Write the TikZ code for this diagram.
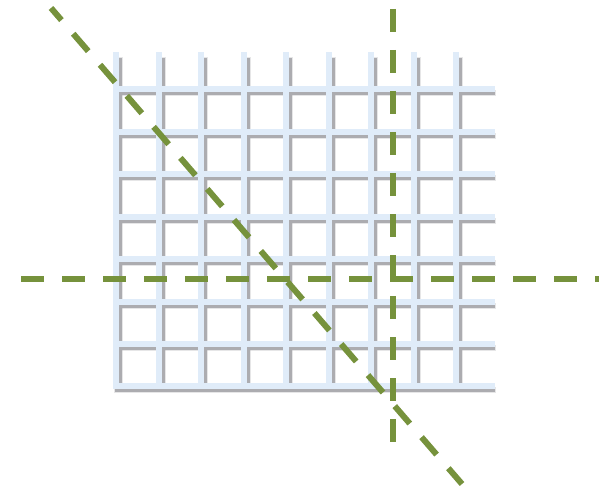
\documentclass[tikz,border=0pt]{standalone}
\usepackage{tikz}
\definecolor{barblue}{RGB}{224,236,249}
\definecolor{shadowgray}{RGB}{172,172,176}
\definecolor{cutgreen}{RGB}{118,146,60}

\begin{document}
\begin{tikzpicture}[x=1pt,y=-1pt,
    shadowbar/.style={shadowgray, line width=3pt},
    softbar/.style={shadowgray, opacity=0.3, line width=6pt},
    gridbar/.style={barblue, line width=6pt},
    cutline/.style={cutgreen, line width=6pt, dash pattern=on 23pt off 18pt}]
    % 参数设置
    \def\nx{8} % 竖条间隔数
    \def\ny{7} % 横条间隔数
    \def\gx{42.5} % 竖条间距
    \def\gy{42.4} % 横条间距
    \def\xo{116} % 第一根竖条
    \def\yo{89.5} % 第一根横条

    \useasboundingbox (0,0) rectangle (599,489);

    % 阴影（向右下偏移）
    \foreach \i in {0,...,\nx} {
        \draw[softbar] (\xo+\i*\gx+4,57) -- (\xo+\i*\gx+4,392);
        \draw[shadowbar] (\xo+\i*\gx+4.5,58) -- (\xo+\i*\gx+4.5,391);
    }
    \foreach \j in {0,...,\ny} {
        \draw[softbar] (114,\yo+\j*\gy+4) -- (496,\yo+\j*\gy+4);
        \draw[shadowbar] (115,\yo+\j*\gy+4.5) -- (495,\yo+\j*\gy+4.5);
    }

    % 网格条
    \foreach \i in {0,...,\nx}
        \draw[gridbar] (\xo+\i*\gx,52) -- (\xo+\i*\gx,389);
    \foreach \j in {0,...,\ny}
        \draw[gridbar] (113,\yo+\j*\gy) -- (495,\yo+\j*\gy);

    % 三条切割线
    \draw[cutline, dash phase=7pt] (51,8) -- (462,484);
    \draw[cutline] (21,279) -- (599,279);
    \draw[cutline] (393,9) -- (393,442);
\end{tikzpicture}
\end{document}
